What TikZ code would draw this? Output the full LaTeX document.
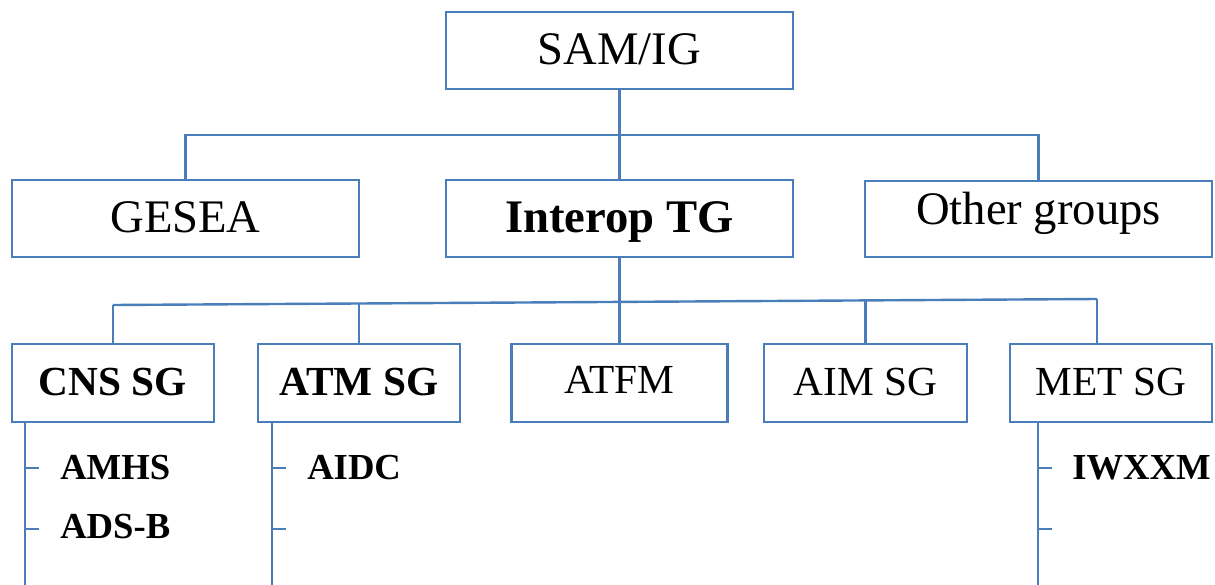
\documentclass[tikz,border=0pt]{standalone}
\usepackage{fontspec}
\setmainfont{Liberation Serif}
\usetikzlibrary{calc}
\definecolor{ln}{RGB}{74,126,187}
\begin{document}
\begin{tikzpicture}[x=0.75pt,y=-0.75pt,
  box/.style={draw=ln, line width=1.8pt, inner sep=0pt, text height=24.5pt, text depth=3.5pt,
              font=\fontsize{35}{40}\selectfont},
  sbox/.style={box, text height=21.7pt, text depth=3.1pt, font=\fontsize{31}{36}\selectfont},
  sz/.style 2 args={minimum width=#1*0.75pt, minimum height=#2*0.75pt},
  item/.style={anchor=base west, inner sep=0pt, font=\fontsize{27.5}{32}\selectfont\bfseries},
  conn/.style={draw=ln, line width=1.8pt}]
\useasboundingbox (0,0) rectangle (1215,585);

% top levels
\node[box, sz={347}{77}] (sam) at (619.5,50.5) {SAM/IG};
\node[box, sz={347}{77}] (gesea) at (185.5,218.5) {GESEA};
\node[box, sz={347}{77}, font=\fontsize{35}{40}\selectfont\bfseries] (interop) at (619.5,218.5) {Interop TG};
\node[box, sz={347}{76}, text depth=17pt] (other) at (1038.5,219) {Other groups};

% sub groups
\node[sbox, sz={202}{78}, font=\fontsize{31}{36}\selectfont\bfseries] (cns) at (113,383) {CNS SG};
\node[sbox, sz={202}{78}, font=\fontsize{31}{36}\selectfont\bfseries] (atm) at (359,383) {ATM SG};
\node[sbox, sz={216}{78}, text depth=6pt] (atfm) at (619.5,383) {ATFM};
\node[sbox, sz={203}{78}] (aim) at (865.5,383) {AIM SG};
\node[sbox, sz={202}{78}] (met) at (1111,383) {MET SG};

% level 1 connectors
\coordinate (j1) at (619.5,135);
\draw[conn] (sam.south) -- (interop.north);
\draw[conn] (gesea.north) |- (j1) -| (other.north);

% level 2 connectors
\coordinate (ja) at (113,305);
\coordinate (jb) at (1097,299);
\coordinate (jm) at (1097,344);
\draw[conn] (ja) -- (jb);
\draw[conn] (interop.south) -- (atfm.north);
\draw[conn] (cns.north) -- (ja);
\draw[conn] (atm.north) -- (359,303.5);
\draw[conn] (aim.north) -- (865.5,300.4);
\draw[conn] (jm) -- (jb);

% side lists
\foreach \b/\dx/\e in {cns/14/c, atm/15/a, met/29/m}{
  \coordinate (\e0) at ($(\b.south west)+(\dx,0)$);
  \coordinate (\e9) at ($(\b.south west)+(\dx,163)$);
  \draw[conn] (\e0) -- (\e9);
  \draw[conn] ($(\e0)+(0,45)$) -- ++(14,0);
  \draw[conn] ($(\e0)+(0,106)$) -- ++(14,0);
}
\node[item] (amhs) at (60,479) {AMHS};
\node[item] (adsb) at (60,538) {ADS-B};
\node[item] (aidc) at (307,479) {AIDC};
\node[item] (iwxxm) at (1072,479) {IWXXM};
\end{tikzpicture}
\end{document}
